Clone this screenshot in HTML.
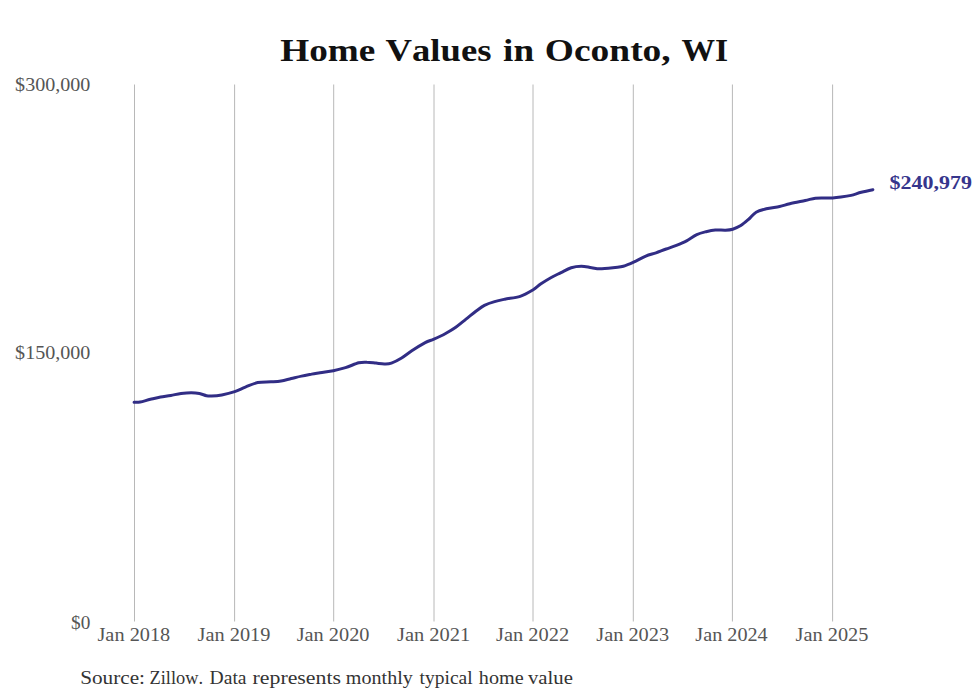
<!DOCTYPE html>
<html><head><meta charset="utf-8"><title>Home Values in Oconto, WI</title>
<style>
html,body{margin:0;padding:0;background:#fff;width:980px;height:699px;overflow:hidden}
svg{display:block;font-family:"Liberation Serif",serif;font-kerning:none}
</style></head><body>
<svg width="980" height="699" viewBox="0 0 980 699">
<rect width="980" height="699" fill="#fff"/>
<line x1="134.5" y1="84.5" x2="134.5" y2="621.5" stroke="#b8b8b8" stroke-width="1"/>
<line x1="234.6" y1="84.5" x2="234.6" y2="621.5" stroke="#b8b8b8" stroke-width="1"/>
<line x1="333.7" y1="84.5" x2="333.7" y2="621.5" stroke="#b8b8b8" stroke-width="1"/>
<line x1="434.0" y1="84.5" x2="434.0" y2="621.5" stroke="#b8b8b8" stroke-width="1"/>
<line x1="533.0" y1="84.5" x2="533.0" y2="621.5" stroke="#b8b8b8" stroke-width="1"/>
<line x1="633.3" y1="84.5" x2="633.3" y2="621.5" stroke="#b8b8b8" stroke-width="1"/>
<line x1="732.4" y1="84.5" x2="732.4" y2="621.5" stroke="#b8b8b8" stroke-width="1"/>
<line x1="832.6" y1="84.5" x2="832.6" y2="621.5" stroke="#b8b8b8" stroke-width="1"/>
<path d="M134.1,402.3 C135.1,402.2 137.5,402.5 140.2,402.0 C142.9,401.5 147.0,400.1 150.4,399.3 C153.8,398.5 157.2,397.6 160.6,397.0 C164.0,396.4 167.4,396.1 170.8,395.5 C174.2,394.9 177.6,393.9 181.0,393.5 C184.4,393.1 188.1,392.8 191.2,392.8 C194.3,392.8 196.8,393.0 199.4,393.5 C202.0,394.0 204.5,395.3 206.5,395.7 C208.5,396.1 209.0,396.1 211.6,396.0 C214.2,395.9 218.0,395.6 221.8,394.9 C225.7,394.2 230.8,393.0 234.7,391.7 C238.6,390.4 241.6,388.6 245.4,387.1 C249.2,385.6 253.4,383.4 257.7,382.5 C261.9,381.6 267.0,382.1 270.9,381.8 C274.8,381.6 277.7,381.6 281.1,381.0 C284.5,380.4 287.9,379.3 291.3,378.5 C294.7,377.7 298.1,376.8 301.5,376.1 C304.9,375.4 308.6,374.7 311.7,374.1 C314.8,373.5 316.4,373.3 320.0,372.7 C323.6,372.1 329.1,371.5 333.3,370.7 C337.6,369.9 341.2,368.9 345.5,367.6 C349.8,366.3 355.2,363.7 358.8,362.8 C362.4,361.9 364.0,362.1 366.9,362.2 C369.8,362.2 373.2,362.8 376.1,363.1 C379.0,363.4 381.8,363.9 384.3,363.9 C386.9,363.9 388.5,364.1 391.4,363.1 C394.3,362.1 398.2,360.1 401.6,358.0 C405.0,355.9 407.9,353.4 411.8,350.8 C415.7,348.2 421.5,344.6 425.2,342.6 C428.9,340.7 430.5,340.6 433.9,339.1 C437.3,337.6 442.0,335.5 445.6,333.5 C449.2,331.5 452.4,329.7 455.8,327.3 C459.2,324.9 462.6,321.9 466.0,319.2 C469.4,316.5 473.1,313.3 476.2,311.0 C479.3,308.7 481.3,307.0 484.4,305.4 C487.5,303.8 491.2,302.6 494.6,301.6 C498.0,300.6 500.5,300.1 504.8,299.2 C509.1,298.3 515.5,297.9 520.2,296.3 C524.9,294.7 529.8,291.7 533.2,289.7 C536.6,287.7 537.7,286.1 540.6,284.1 C543.5,282.1 547.4,279.6 550.8,277.7 C554.2,275.8 557.6,274.3 561.0,272.6 C564.4,270.9 567.8,268.8 571.2,267.7 C574.6,266.6 578.0,266.2 581.4,266.2 C584.8,266.2 588.5,267.3 591.6,267.7 C594.7,268.1 595.9,268.8 599.8,268.8 C603.7,268.8 611.3,267.9 615.2,267.5 C619.1,267.1 620.3,267.2 623.4,266.3 C626.5,265.4 629.9,263.9 633.6,262.2 C637.3,260.5 642.1,257.7 645.8,256.1 C649.5,254.5 652.6,254.0 656.0,252.8 C659.4,251.6 662.8,250.2 666.2,249.0 C669.6,247.8 673.0,246.8 676.4,245.4 C679.8,244.0 683.2,242.6 686.6,240.8 C690.0,239.0 693.5,236.2 696.8,234.7 C700.0,233.2 703.0,232.5 706.1,231.7 C709.2,230.9 712.1,230.2 715.3,230.0 C718.5,229.8 722.6,230.3 725.5,230.2 C728.4,230.1 730.2,230.0 732.7,229.2 C735.2,228.4 738.1,227.3 740.8,225.6 C743.5,223.9 746.5,221.2 749.0,219.0 C751.5,216.8 753.2,214.0 756.1,212.3 C759.0,210.6 762.4,209.8 766.3,208.8 C770.2,207.8 775.7,207.3 779.6,206.5 C783.5,205.7 785.5,204.7 789.8,203.7 C794.1,202.7 800.9,201.4 805.2,200.5 C809.5,199.6 812.0,198.6 815.4,198.2 C818.8,197.8 822.7,198.0 825.6,198.0 C828.5,198.0 830.1,198.2 832.6,198.0 C835.1,197.8 837.8,197.5 840.9,197.1 C844.0,196.7 847.7,196.2 851.1,195.4 C854.5,194.6 857.7,193.2 861.3,192.3 C864.9,191.4 871.0,190.1 872.9,189.7" fill="none" stroke="#312d85" stroke-width="3" stroke-linejoin="round" stroke-linecap="round"/>
<text x="280.26" y="61.1" font-size="31.8" font-weight="bold" fill="#111" textLength="95.00" lengthAdjust="spacingAndGlyphs">Home</text>
<text x="385.59" y="61.1" font-size="31.8" font-weight="bold" fill="#111" textLength="105.91" lengthAdjust="spacingAndGlyphs">Values</text>
<text x="503.08" y="61.1" font-size="31.8" font-weight="bold" fill="#111" textLength="30.98" lengthAdjust="spacingAndGlyphs">in</text>
<text x="544.87" y="61.1" font-size="31.8" font-weight="bold" fill="#111" textLength="125.85" lengthAdjust="spacingAndGlyphs">Oconto,</text>
<text x="681.52" y="61.1" font-size="31.8" font-weight="bold" fill="#111" textLength="46.61" lengthAdjust="spacingAndGlyphs">WI</text>
<text x="15.14" y="91.2" font-size="17.8" fill="#555" textLength="75.23" lengthAdjust="spacingAndGlyphs">$300,000</text>
<text x="15.14" y="359.2" font-size="17.8" fill="#555" textLength="75.23" lengthAdjust="spacingAndGlyphs">$150,000</text>
<text x="71.07" y="629.3" font-size="17.8" fill="#555" textLength="19.26" lengthAdjust="spacingAndGlyphs">$0</text>
<text x="97.47" y="640.9" font-size="18.5" fill="#555" textLength="72.80" lengthAdjust="spacingAndGlyphs">Jan 2018</text>
<text x="197.57" y="640.9" font-size="18.5" fill="#555" textLength="72.86" lengthAdjust="spacingAndGlyphs">Jan 2019</text>
<text x="296.67" y="640.9" font-size="18.5" fill="#555" textLength="72.80" lengthAdjust="spacingAndGlyphs">Jan 2020</text>
<text x="396.97" y="640.9" font-size="18.5" fill="#555" textLength="73.26" lengthAdjust="spacingAndGlyphs">Jan 2021</text>
<text x="495.97" y="640.9" font-size="18.5" fill="#555" textLength="73.16" lengthAdjust="spacingAndGlyphs">Jan 2022</text>
<text x="596.27" y="640.9" font-size="18.5" fill="#555" textLength="72.82" lengthAdjust="spacingAndGlyphs">Jan 2023</text>
<text x="695.38" y="640.9" font-size="18.5" fill="#555" textLength="72.34" lengthAdjust="spacingAndGlyphs">Jan 2024</text>
<text x="795.57" y="640.9" font-size="18.5" fill="#555" textLength="72.82" lengthAdjust="spacingAndGlyphs">Jan 2025</text>
<text x="80.18" y="683.8" font-size="18.5" fill="#333" textLength="64.84" lengthAdjust="spacingAndGlyphs">Source:</text>
<text x="149.52" y="683.8" font-size="18.5" fill="#333" textLength="53.59" lengthAdjust="spacingAndGlyphs">Zillow.</text>
<text x="209.53" y="683.8" font-size="18.5" fill="#333" textLength="37.03" lengthAdjust="spacingAndGlyphs">Data</text>
<text x="252.56" y="683.8" font-size="18.5" fill="#333" textLength="88.42" lengthAdjust="spacingAndGlyphs">represents</text>
<text x="345.88" y="683.8" font-size="18.5" fill="#333" textLength="66.90" lengthAdjust="spacingAndGlyphs">monthly</text>
<text x="419.61" y="683.8" font-size="18.5" fill="#333" textLength="53.08" lengthAdjust="spacingAndGlyphs">typical</text>
<text x="478.80" y="683.8" font-size="18.5" fill="#333" textLength="44.80" lengthAdjust="spacingAndGlyphs">home</text>
<text x="528.00" y="683.8" font-size="18.5" fill="#333" textLength="44.92" lengthAdjust="spacingAndGlyphs">value</text>
<text x="889.42" y="188.8" font-size="18.6" font-weight="bold" fill="#36358c" textLength="82.48" lengthAdjust="spacingAndGlyphs">$240,979</text>
</svg>
</body></html>
